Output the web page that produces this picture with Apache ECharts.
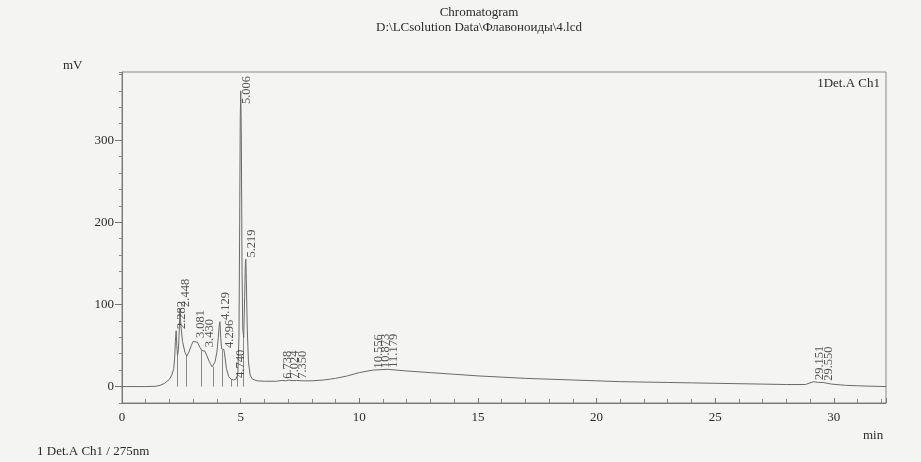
<!DOCTYPE html>
<html><head><meta charset="utf-8">
<script src="https://cdn.jsdelivr.net/npm/echarts@6/dist/echarts.min.js"></script>
<style>html,body{margin:0;padding:0;background:#f4f4f2}#c{width:921px;height:462px}</style>
</head><body><div id="c"></div>
<script>
// retention time (min) and detector signal (mV)
const times = [0,0.5,1.0,1.4,1.6,1.8,2.0,2.1,2.18,2.22,2.25,2.282,2.31,2.34,2.38,2.42,2.448,2.48,2.55,2.65,2.73,2.82,2.92,3.0,3.081,3.18,3.28,3.36,3.43,3.5,3.6,3.7,3.8,3.85,3.92,4.0,4.06,4.1,4.129,4.16,4.2,4.25,4.296,4.34,4.4,4.5,4.6,4.7,4.74,4.8,4.88,4.93,4.96,4.985,5.006,5.03,5.06,5.09,5.13,5.17,5.2,5.219,5.24,5.28,5.33,5.4,5.5,5.7,6.0,6.5,6.738,6.9,7.024,7.2,7.35,7.6,8.0,8.5,9.0,9.5,10.0,10.556,10.873,11.179,11.6,12.0,13.0,14.0,15.0,16.0,17.0,18.0,19.0,20.0,21.0,22.0,23.0,24.0,25.0,26.0,27.0,28.0,28.8,29.151,29.35,29.55,29.9,30.5,31.0,31.5,32.2];
const signal = [0,0,0,0.3,1.5,4,9,14,22,35,55,68,50,38,45,75,95,75,55,42,37,42,50,55,57,54,48,44,46,43,36,29,24,24,30,42,60,75,79,60,46,44,45,36,22,12,9,8,8.5,9,15,60,200,330,360,300,140,70,60,110,150,155,130,70,30,14,9,7,6.5,6.5,7.5,7,7.8,7.2,7.5,7,7,8,10,13,17,20,20.5,21,20,19,17,15,13,11.5,10,9,8,7,6,5.5,5,4.5,4,3.5,3,2.5,2.5,6,5,5,3,1.5,1,0.5,0];
const peakTimes = [2.282,2.448,3.081,3.430,4.129,4.296,4.740,5.006,5.219,6.738,7.024,7.350,10.556,10.873,11.179,29.151,29.550];
const peakNames = ['2.282','2.448','3.081','3.430','4.129','4.296','4.740','5.006','5.219','6.738','7.024','7.350','10.556','10.873','11.179','29.151','29.550'];
const dropTimes = [2.33,2.71,3.36,3.85,4.24,4.60,4.87,5.12];
const yLabelValues = [0,100,200,300];

function interp(t){
  for(let i=1;i<times.length;i++){
    if(t<=times[i]){const a=times[i-1],b=times[i];const f=(t-a)/(b-a);return signal[i-1]+f*(signal[i]-signal[i-1]);}
  }
  return signal[signal.length-1];
}
const curve = times.map((t,i)=>[t,signal[i]]);
const labelData = peakTimes.map((t,i)=>[t, Math.min(interp(t)+2, 344), peakNames[i]]);
const dropData = dropTimes.map(t=>({coords:[[t,0],[t,interp(t)]]}));

const serif = 'Liberation Serif';
const txt = '#2a2a2a';
const chart = echarts.init(document.getElementById('c'), null, {renderer:'canvas'});
chart.setOption({
  backgroundColor:'#f4f4f2',
  animation:false,
  title:{text:'Chromatogram', subtext:'D:\\LCsolution Data\\Флавоноиды\\4.lcd', left:474, top:0, textAlign:'center', itemGap:0,
    textStyle:{fontFamily:serif,fontSize:13,fontWeight:'normal',color:txt,lineHeight:15},
    subtextStyle:{fontFamily:serif,fontSize:13,color:txt,lineHeight:15}},
  grid:{left:122,right:35,top:72,bottom:59,show:true,borderColor:'#8a8a8a',borderWidth:1,backgroundColor:'transparent'},
  xAxis:{type:'value',min:0,max:32.2,interval:5,
    axisLine:{onZero:false,lineStyle:{color:'#777'}},
    axisTick:{inside:true,length:5,lineStyle:{color:'#777'}},
    minorTick:{show:true,splitNumber:5,length:4,lineStyle:{color:'#888'}},
    splitLine:{show:false},
    axisLabel:{fontFamily:serif,fontSize:13,color:txt,margin:8,showMaxLabel:false,formatter:v=>String(v)}},
  yAxis:[
    {type:'value',min:-20,max:383,interval:20,
     axisLine:{show:true,lineStyle:{color:'#777'}},
     axisTick:{length:3,lineStyle:{color:'#888'}},
     axisLabel:{show:false},splitLine:{show:false}},
    {type:'value',min:-20,max:383,position:'left',
     axisLine:{show:false},
     axisTick:{show:true,length:7,customValues:yLabelValues,lineStyle:{color:'#777'}},
     axisLabel:{fontFamily:serif,fontSize:13,color:txt,margin:8,customValues:yLabelValues},
     splitLine:{show:false}}
  ],
  graphic:[
    {type:'text',left:63,top:59,style:{text:'mV',font:'13px "Liberation Serif"',fill:txt}},
    {type:'text',right:41,top:77,style:{text:'1Det.A Ch1',font:'13px "Liberation Serif"',fill:txt}},
    {type:'text',left:863,top:429,style:{text:'min',font:'13px "Liberation Serif"',fill:txt}},
    {type:'text',left:37,top:445,style:{text:'1 Det.A Ch1 / 275nm',font:'13px "Liberation Serif"',fill:txt}}
  ],
  series:[
    {type:'line',data:curve,showSymbol:false,symbol:'none',lineStyle:{color:'#6a6a6a',width:1},z:3},
    {type:'lines',coordinateSystem:'cartesian2d',data:dropData,lineStyle:{color:'#8a8a8a',width:1,opacity:1},z:2},
    {type:'scatter',data:labelData,symbolSize:0,z:4,
     label:{show:true,rotate:90,position:'top',distance:0,align:'left',verticalAlign:'middle',offset:[0,6],
       formatter:p=>p.data[2],fontFamily:serif,fontSize:12.5,color:txt}}
  ]
});
</script></body></html>
